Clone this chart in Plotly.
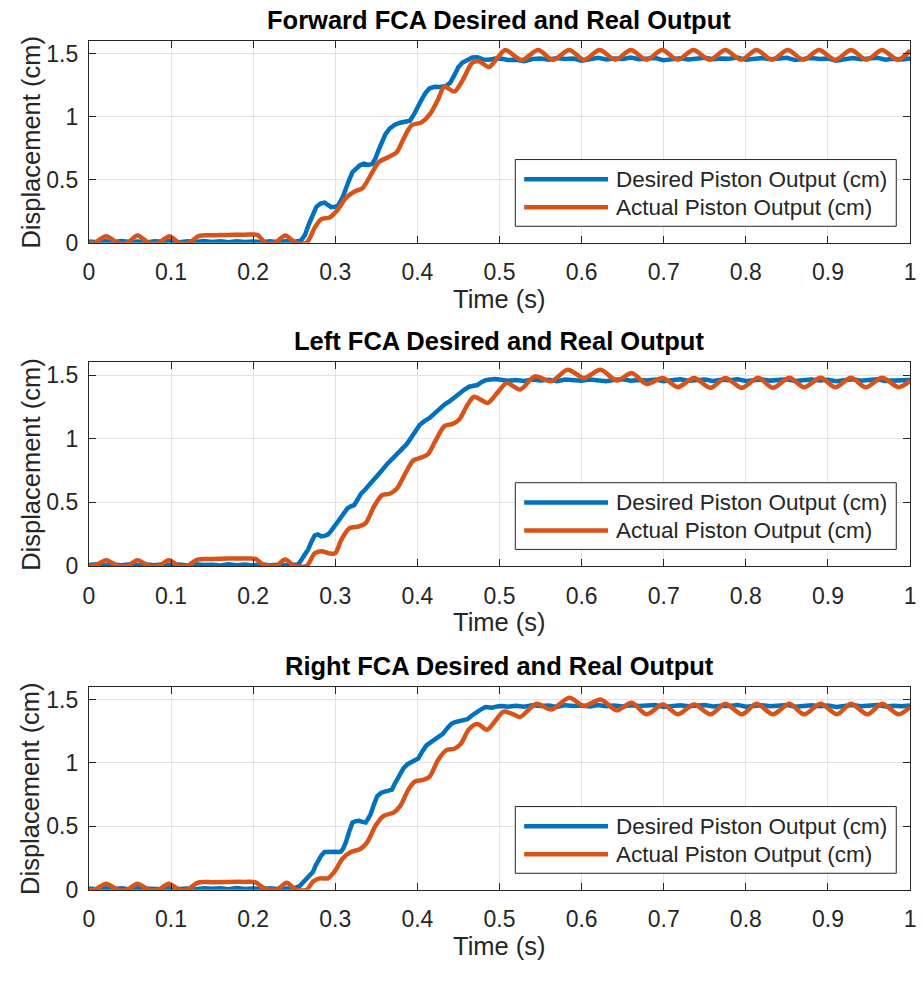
import plotly.graph_objects as go

# ---------------- data ----------------
SUBPLOT_TITLES = [
    "Forward FCA Desired and Real Output",
    "Left FCA Desired and Real Output",
    "Right FCA Desired and Real Output",
]
SERIES_NAMES = ["Desired Piston Output (cm)", "Actual Piston Output (cm)"]
X_LABEL = "Time (s)"
Y_LABEL = "Displacement (cm)"
X_TICKS = [0, 0.1, 0.2, 0.3, 0.4, 0.5, 0.6, 0.7, 0.8, 0.9, 1.0]
X_TICKTEXT = ["0", "0.1", "0.2", "0.3", "0.4", "0.5", "0.6", "0.7", "0.8", "0.9", "1"]
Y_TICKS = [0, 0.5, 1.0, 1.5]
Y_TICKTEXT = ["0", "0.5", "1", "1.5"]

# shared sample times of the settled region (desired signal)
T_SETTLED = [0.52, 0.53, 0.54, 0.55, 0.56, 0.57, 0.58, 0.59, 0.60, 0.61, 0.62, 0.63,
             0.64, 0.65, 0.66, 0.67, 0.68, 0.69, 0.70, 0.71, 0.72, 0.73, 0.74, 0.75,
             0.76, 0.77, 0.78, 0.79, 0.80, 0.81, 0.82, 0.83, 0.84, 0.85, 0.86, 0.87,
             0.88, 0.89, 0.90, 0.91, 0.92, 0.93, 0.94, 0.95, 0.96, 0.97, 0.98, 0.99, 1.00]
# shared sample times of the resting region (desired signal)
T_REST = [0.00, 0.01, 0.02, 0.03, 0.04, 0.05, 0.06, 0.07, 0.08, 0.09, 0.10, 0.11,
          0.12, 0.13, 0.14, 0.15, 0.16, 0.17, 0.18, 0.19, 0.20, 0.21, 0.22, 0.23,
          0.24, 0.25]

# ---- Forward FCA ----
fwd_des_rest = [0.010, 0.004, 0.012, 0.006, 0.013, 0.005, 0.010, 0.003, 0.012, 0.007,
                0.014, 0.004, 0.011, 0.006, 0.013, 0.005, 0.011, 0.004, 0.012, 0.006,
                0.010, 0.004, 0.012, 0.006, 0.011, 0.008]
fwd_des_ramp_t = [0.258, 0.263, 0.268, 0.272, 0.277, 0.282, 0.287, 0.291, 0.295, 0.300,
                  0.304, 0.309, 0.313, 0.317, 0.321, 0.325, 0.330, 0.335, 0.340, 0.345,
                  0.349, 0.353, 0.357, 0.361, 0.366, 0.372, 0.379, 0.386, 0.391, 0.396,
                  0.400, 0.405, 0.410, 0.415, 0.421, 0.428, 0.435, 0.440, 0.445, 0.450,
                  0.455, 0.461, 0.467, 0.473, 0.480, 0.487, 0.495, 0.503, 0.510]
fwd_des_ramp = [0.015, 0.060, 0.150, 0.220, 0.285, 0.310, 0.318, 0.300, 0.282, 0.285,
                0.300, 0.360, 0.440, 0.500, 0.560, 0.590, 0.615, 0.628, 0.618, 0.625,
                0.670, 0.740, 0.810, 0.860, 0.905, 0.935, 0.953, 0.960, 0.968, 1.020,
                1.080, 1.135, 1.190, 1.226, 1.238, 1.236, 1.245, 1.270, 1.330, 1.395,
                1.430, 1.455, 1.470, 1.472, 1.455, 1.452, 1.462, 1.460, 1.450]
fwd_des_settled = [1.452, 1.440, 1.458, 1.462, 1.452, 1.466, 1.458, 1.462, 1.445, 1.460,
                   1.468, 1.455, 1.462, 1.458, 1.470, 1.456, 1.462, 1.466, 1.448, 1.460,
                   1.465, 1.455, 1.462, 1.468, 1.456, 1.463, 1.460, 1.470, 1.452, 1.462,
                   1.466, 1.456, 1.463, 1.468, 1.450, 1.462, 1.466, 1.458, 1.462, 1.445,
                   1.460, 1.466, 1.456, 1.462, 1.468, 1.452, 1.460, 1.455, 1.462]

fwd_act_t = [0.000, 0.007, 0.021, 0.035, 0.047, 0.059, 0.073, 0.085, 0.098, 0.110,
             0.122, 0.134, 0.150, 0.170, 0.190, 0.205, 0.215, 0.227, 0.239, 0.252,
             0.265, 0.275, 0.283, 0.293, 0.303, 0.313, 0.323, 0.333, 0.343, 0.353,
             0.365, 0.375, 0.383, 0.393, 0.405, 0.415, 0.425, 0.433, 0.445, 0.455,
             0.467, 0.475, 0.487, 0.495, 0.507, 0.527, 0.547, 0.565, 0.585, 0.603,
             0.622, 0.641, 0.660, 0.679, 0.698, 0.717, 0.736, 0.756, 0.775, 0.794,
             0.813, 0.832, 0.851, 0.870, 0.889, 0.909, 0.928, 0.947, 0.966, 0.985,
             1.000]
fwd_act = [0.000, 0.000, 0.052, 0.000, 0.000, 0.058, 0.000, 0.000, 0.052, 0.000,
           0.000, 0.055, 0.060, 0.062, 0.064, 0.062, 0.000, 0.000, 0.058, 0.000,
           0.000, 0.120, 0.187, 0.200, 0.262, 0.356, 0.405, 0.432, 0.535, 0.640,
           0.680, 0.720, 0.823, 0.932, 0.955, 1.018, 1.135, 1.239, 1.200, 1.290,
           1.430, 1.440, 1.395, 1.446, 1.530, 1.450, 1.530, 1.452, 1.530, 1.452,
           1.530, 1.452, 1.530, 1.452, 1.530, 1.452, 1.530, 1.452, 1.530, 1.452,
           1.530, 1.452, 1.530, 1.452, 1.530, 1.452, 1.530, 1.452, 1.530, 1.452,
           1.525]

# ---- Left FCA ----
left_des_rest = [0.008, 0.012, 0.004, 0.011, 0.006, 0.013, 0.004, 0.010, 0.005, 0.012,
                 0.006, 0.011, 0.003, 0.012, 0.007, 0.010, 0.004, 0.013, 0.006, 0.011,
                 0.004, 0.012, 0.006, 0.010, 0.005, 0.009]
left_des_ramp_t = [0.255, 0.259, 0.263, 0.267, 0.271, 0.275, 0.279, 0.283, 0.287, 0.291,
                   0.295, 0.299, 0.303, 0.307, 0.311, 0.315, 0.319, 0.323, 0.327, 0.331,
                   0.337, 0.343, 0.348, 0.353, 0.358, 0.363, 0.369, 0.375, 0.381, 0.387,
                   0.391, 0.395, 0.399, 0.403, 0.409, 0.415, 0.421, 0.427, 0.433, 0.439,
                   0.445, 0.451, 0.457, 0.463, 0.468, 0.473, 0.478, 0.483, 0.489, 0.495,
                   0.503, 0.510]
left_des_ramp = [0.012, 0.050, 0.090, 0.130, 0.190, 0.240, 0.248, 0.232, 0.236, 0.246,
                 0.275, 0.310, 0.350, 0.388, 0.425, 0.453, 0.468, 0.478, 0.520, 0.565,
                 0.605, 0.646, 0.688, 0.724, 0.760, 0.800, 0.840, 0.879, 0.915, 0.957,
                 0.995, 1.034, 1.075, 1.110, 1.140, 1.164, 1.200, 1.240, 1.268, 1.293,
                 1.325, 1.358, 1.385, 1.409, 1.418, 1.422, 1.445, 1.461, 1.466, 1.469,
                 1.462, 1.456]
left_des_settled = [1.462, 1.455, 1.466, 1.458, 1.463, 1.452, 1.466, 1.460, 1.456, 1.465,
                    1.460, 1.452, 1.463, 1.468, 1.456, 1.462, 1.458, 1.466, 1.452, 1.462,
                    1.467, 1.456, 1.460, 1.465, 1.455, 1.463, 1.460, 1.468, 1.455, 1.462,
                    1.466, 1.457, 1.462, 1.468, 1.454, 1.461, 1.466, 1.458, 1.463, 1.452,
                    1.461, 1.467, 1.456, 1.462, 1.468, 1.455, 1.460, 1.457, 1.462]

left_act_t = [0.000, 0.007, 0.021, 0.035, 0.047, 0.059, 0.073, 0.085, 0.097, 0.110,
              0.120, 0.132, 0.150, 0.170, 0.190, 0.203, 0.212, 0.222, 0.228, 0.239,
              0.250, 0.265, 0.275, 0.283, 0.293, 0.300, 0.307, 0.317, 0.329, 0.337,
              0.347, 0.357, 0.367, 0.375, 0.385, 0.395, 0.405, 0.413, 0.423, 0.433,
              0.443, 0.451, 0.461, 0.469, 0.479, 0.486, 0.499, 0.509, 0.525, 0.543,
              0.563, 0.583, 0.603, 0.623, 0.643, 0.661, 0.679, 0.699, 0.717, 0.737,
              0.757, 0.775, 0.795, 0.815, 0.833, 0.853, 0.871, 0.891, 0.909, 0.928,
              0.946, 0.966, 0.986, 1.000]
left_act = [0.000, 0.000, 0.045, 0.000, 0.000, 0.045, 0.000, 0.000, 0.045, 0.000,
            0.000, 0.050, 0.055, 0.058, 0.058, 0.055, 0.010, 0.000, 0.000, 0.050,
            0.000, 0.000, 0.100, 0.116, 0.098, 0.100, 0.200, 0.295, 0.310, 0.336,
            0.465, 0.556, 0.569, 0.608, 0.724, 0.828, 0.853, 0.879, 0.996, 1.099,
            1.117, 1.151, 1.267, 1.330, 1.300, 1.282, 1.374, 1.439, 1.387, 1.490,
            1.452, 1.542, 1.478, 1.542, 1.457, 1.517, 1.431, 1.478, 1.405, 1.478,
            1.400, 1.478, 1.400, 1.480, 1.400, 1.480, 1.405, 1.480, 1.405, 1.480,
            1.405, 1.480, 1.405, 1.455]

# ---- Right FCA ----
right_des_rest = [0.009, 0.004, 0.012, 0.006, 0.011, 0.003, 0.012, 0.007, 0.010, 0.004,
                  0.013, 0.006, 0.010, 0.004, 0.012, 0.007, 0.011, 0.004, 0.013, 0.006,
                  0.010, 0.005, 0.012, 0.006, 0.010, 0.012]
right_des_ramp_t = [0.256, 0.261, 0.265, 0.269, 0.273, 0.276, 0.279, 0.283, 0.287, 0.291,
                    0.295, 0.300, 0.304, 0.307, 0.310, 0.313, 0.317, 0.321, 0.325, 0.329,
                    0.333, 0.337, 0.340, 0.343, 0.347, 0.351, 0.356, 0.361, 0.365, 0.369,
                    0.372, 0.375, 0.379, 0.383, 0.388, 0.393, 0.397, 0.401, 0.406, 0.411,
                    0.417, 0.423, 0.427, 0.431, 0.436, 0.441, 0.446, 0.451, 0.456, 0.461,
                    0.466, 0.471, 0.477, 0.483, 0.487, 0.491, 0.497, 0.503, 0.510]
right_des_ramp = [0.026, 0.060, 0.090, 0.115, 0.142, 0.190, 0.233, 0.270, 0.297, 0.300,
                  0.302, 0.300, 0.298, 0.300, 0.330, 0.375, 0.460, 0.530, 0.540, 0.543,
                  0.535, 0.530, 0.560, 0.595, 0.670, 0.737, 0.765, 0.776, 0.782, 0.789,
                  0.830, 0.866, 0.915, 0.957, 0.990, 1.009, 1.025, 1.034, 1.090, 1.138,
                  1.165, 1.190, 1.210, 1.228, 1.270, 1.306, 1.322, 1.332, 1.340, 1.345,
                  1.372, 1.396, 1.420, 1.440, 1.438, 1.435, 1.445, 1.448, 1.442]
right_des_settled = [1.450, 1.442, 1.455, 1.448, 1.452, 1.440, 1.455, 1.448, 1.452, 1.445,
                     1.456, 1.447, 1.452, 1.444, 1.455, 1.449, 1.452, 1.457, 1.440, 1.450,
                     1.455, 1.446, 1.452, 1.456, 1.445, 1.451, 1.448, 1.457, 1.442, 1.450,
                     1.455, 1.446, 1.452, 1.457, 1.443, 1.450, 1.455, 1.447, 1.452, 1.441,
                     1.450, 1.456, 1.446, 1.452, 1.457, 1.444, 1.450, 1.447, 1.452]

right_act_t = [0.000, 0.007, 0.021, 0.035, 0.047, 0.059, 0.073, 0.085, 0.097, 0.110,
               0.120, 0.132, 0.150, 0.170, 0.190, 0.203, 0.213, 0.223, 0.229, 0.241,
               0.252, 0.265, 0.273, 0.281, 0.291, 0.299, 0.309, 0.319, 0.331, 0.339,
               0.349, 0.359, 0.371, 0.379, 0.389, 0.397, 0.407, 0.415, 0.425, 0.435,
               0.445, 0.453, 0.463, 0.473, 0.485, 0.495, 0.505, 0.517, 0.525, 0.545,
               0.563, 0.585, 0.603, 0.623, 0.643, 0.661, 0.679, 0.699, 0.717, 0.737,
               0.757, 0.775, 0.795, 0.813, 0.833, 0.853, 0.871, 0.891, 0.911, 0.928,
               0.948, 0.966, 0.986, 1.000]
right_act = [0.000, 0.000, 0.048, 0.000, 0.000, 0.048, 0.000, 0.000, 0.048, 0.000,
             0.000, 0.055, 0.060, 0.062, 0.062, 0.058, 0.013, 0.000, 0.000, 0.055,
             0.000, 0.000, 0.065, 0.090, 0.090, 0.142, 0.246, 0.297, 0.323, 0.375,
             0.504, 0.582, 0.608, 0.659, 0.789, 0.853, 0.866, 0.892, 1.021, 1.099,
             1.112, 1.151, 1.267, 1.306, 1.262, 1.332, 1.404, 1.383, 1.362, 1.466,
             1.420, 1.513, 1.448, 1.500, 1.414, 1.474, 1.383, 1.460, 1.383, 1.460,
             1.383, 1.466, 1.383, 1.466, 1.383, 1.466, 1.383, 1.466, 1.383, 1.466,
             1.383, 1.466, 1.383, 1.440]

PANELS = [
    (T_REST + fwd_des_ramp_t + T_SETTLED, fwd_des_rest + fwd_des_ramp + fwd_des_settled,
     fwd_act_t, fwd_act),
    (T_REST + left_des_ramp_t + T_SETTLED, left_des_rest + left_des_ramp + left_des_settled,
     left_act_t, left_act),
    (T_REST + right_des_ramp_t + T_SETTLED, right_des_rest + right_des_ramp + right_des_settled,
     right_act_t, right_act),
]

# ---------------- styling ----------------
W, H = 923, 981
BLUE = "#0072BD"
ORANGE = "#D95319"
AX_COLOR = "#262626"
GRID = "#e3e3e3"
FONT = "Liberation Sans, Arial, Helvetica, sans-serif"

X_LEFT, X_RIGHT = 84, 916            # plot area, px
PANEL_PX = [(41.7, 246.0), (367.3, 573.5), (696.0, 901.7)]   # (top, bottom) px


def px_x(x):
    return x / W


def px_y(y):
    return 1 - y / H


fig = go.Figure()
layout = dict(
    width=W, height=H,
    margin=dict(l=0, r=0, t=0, b=0),
    paper_bgcolor="white", plot_bgcolor="white",
    showlegend=False,
    font=dict(family=FONT, color=AX_COLOR),
)
annotations = []
shapes = []

for i, (t_des, y_des, t_act, y_act) in enumerate(PANELS):
    n = "" if i == 0 else str(i + 1)
    xa, ya = "x" + n, "y" + n
    fig.add_trace(go.Scatter(x=t_des, y=y_des, mode="lines", name=SERIES_NAMES[0],
                             line=dict(color=BLUE, width=4.5), xaxis=xa, yaxis=ya))
    fig.add_trace(go.Scatter(x=t_act, y=y_act, mode="lines", name=SERIES_NAMES[1],
                             line=dict(color=ORANGE, width=4.5, shape="spline", smoothing=0.8),
                             xaxis=xa, yaxis=ya))
    top, bot = PANEL_PX[i]
    common = dict(showline=True, linecolor=AX_COLOR, linewidth=1, mirror="ticks",
                  ticks="inside", ticklen=7, tickwidth=1, tickcolor=AX_COLOR,
                  showgrid=True, gridcolor=GRID, gridwidth=1, zeroline=False,
                  tickfont=dict(family=FONT, size=23, color=AX_COLOR), fixedrange=True)
    layout["xaxis" + n] = dict(common, domain=[px_x(X_LEFT), px_x(X_RIGHT)], range=[0, 1],
                               anchor=ya, tickvals=X_TICKS, ticktext=X_TICKTEXT,
                               ticklabelstandoff=9)
    layout["yaxis" + n] = dict(common, domain=[px_y(bot), px_y(top)], range=[0, 1.6],
                               anchor=xa, tickvals=Y_TICKS, ticktext=Y_TICKTEXT,
                               ticklabelstandoff=5)
    cx = px_x((X_LEFT + X_RIGHT) / 2)
    # subplot title
    annotations.append(dict(text="<b>%s</b>" % SUBPLOT_TITLES[i], xref="paper", yref="paper",
                            x=cx, y=px_y(top - 21.5), xanchor="center", yanchor="middle",
                            showarrow=False, font=dict(family=FONT, size=25.5, color="#000000")))
    # axis labels
    annotations.append(dict(text=X_LABEL, xref="paper", yref="paper",
                            x=cx, y=px_y(bot + 57), xanchor="center", yanchor="middle",
                            showarrow=False, font=dict(family=FONT, size=25.5, color=AX_COLOR)))
    annotations.append(dict(text=Y_LABEL, xref="paper", yref="paper", textangle=-90,
                            x=px_x(25), y=px_y((top + bot) / 2), xanchor="center",
                            yanchor="middle", showarrow=False,
                            font=dict(family=FONT, size=25.5, color=AX_COLOR)))
    # legend box
    shapes.append(dict(type="rect", xref="paper", yref="paper",
                       x0=px_x(516), x1=px_x(902), y0=px_y(bot - 16.7), y1=px_y(bot - 84.3),
                       line=dict(color=AX_COLOR, width=1), fillcolor="white", layer="above"))
    for k, (col, dy) in enumerate([(BLUE, 64.3), (ORANGE, 36.0)]):
        yy = px_y(bot - dy)
        shapes.append(dict(type="line", xref="paper", yref="paper",
                           x0=px_x(525), x1=px_x(610), y0=yy, y1=yy,
                           line=dict(color=col, width=4.5), layer="above"))
        annotations.append(dict(text=SERIES_NAMES[k], xref="paper", yref="paper",
                                x=px_x(616), y=yy, xanchor="left", yanchor="middle",
                                showarrow=False,
                                font=dict(family=FONT, size=22.5, color=AX_COLOR)))

layout["annotations"] = annotations
layout["shapes"] = shapes
fig.update_layout(**layout)
fig.write_html("out.html")
